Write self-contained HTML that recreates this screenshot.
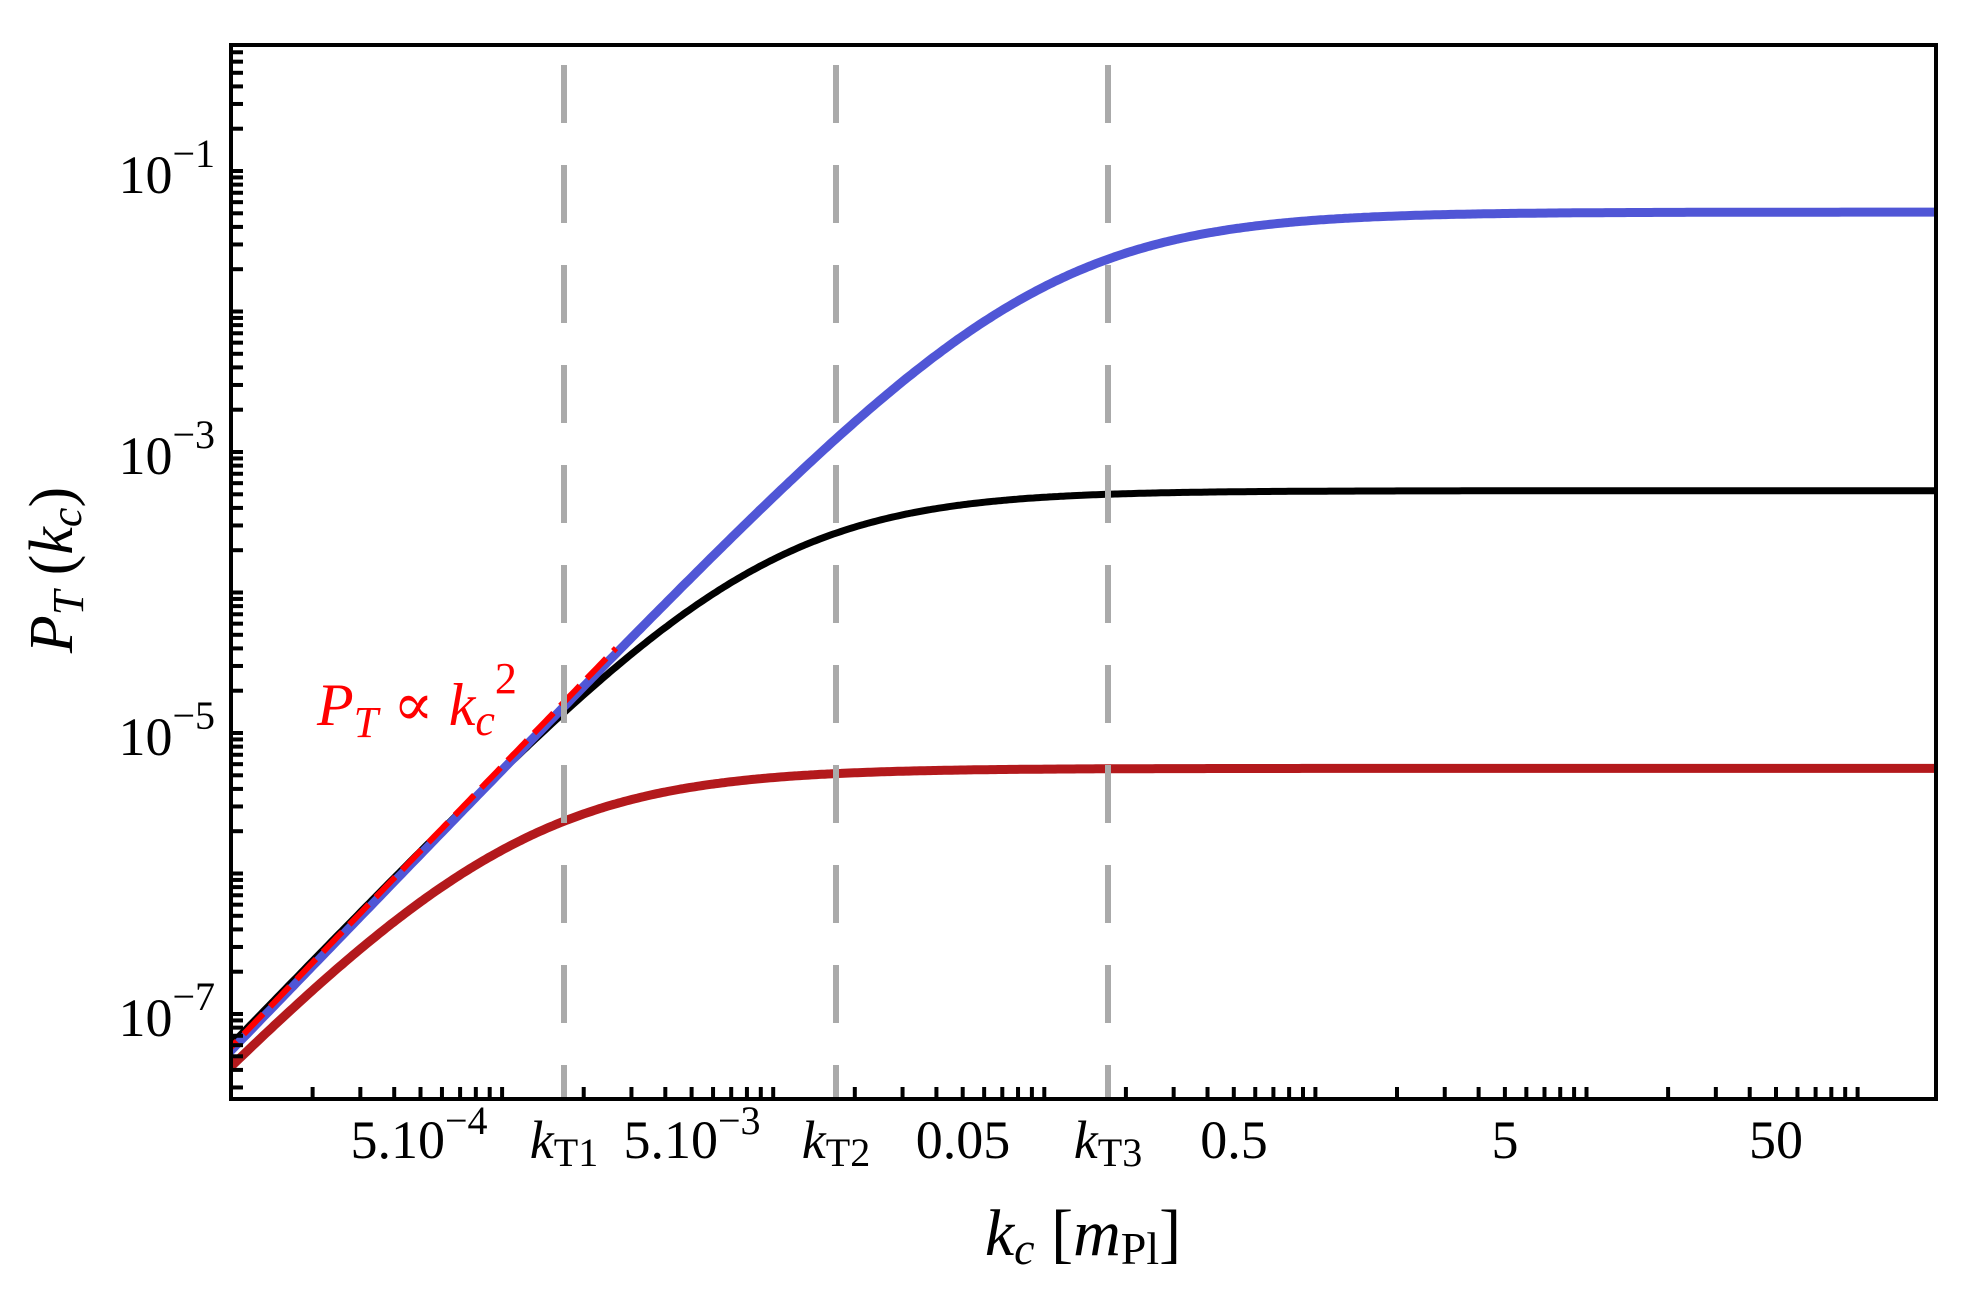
<!DOCTYPE html>
<html><head><meta charset="utf-8"><style>
html,body{margin:0;padding:0;background:#fff;}
svg{display:block;}
text{font-family:"Liberation Serif","DejaVu Serif",serif;fill:#000;}
</style></head><body>
<svg id="s" width="1981" height="1293" viewBox="0 0 1981 1293" xmlns="http://www.w3.org/2000/svg">
<defs><clipPath id="c"><rect x="231" y="45" width="1705" height="1054"/></clipPath></defs>
<rect width="1981" height="1293" fill="#fff"/>
<g id="curves" clip-path="url(#c)"></g>
<g id="vlines" stroke="#aaaaaa" stroke-width="6" stroke-dasharray="58 42" stroke-dashoffset="80">
<line x1="564" y1="45" x2="564" y2="1099"/>
<line x1="836" y1="45" x2="836" y2="1099"/>
<line x1="1108" y1="45" x2="1108" y2="1099"/>
</g>
<g id="ticks" stroke="#000" stroke-width="4"></g>
<rect x="231" y="45" width="1705" height="1054" fill="none" stroke="#000" stroke-width="4"/>
<g font-size="54" text-anchor="end">
<text x="215" y="193">10<tspan dy="-26" font-size="40">−1</tspan></text>
<text x="215" y="474">10<tspan dy="-26" font-size="40">−3</tspan></text>
<text x="215" y="755">10<tspan dy="-26" font-size="40">−5</tspan></text>
<text x="215" y="1036">10<tspan dy="-26" font-size="40">−7</tspan></text>
</g>
<g font-size="54" text-anchor="middle">
<text x="419" y="1158">5.10<tspan dy="-24" font-size="40">−4</tspan></text>
<text x="564" y="1158"><tspan font-style="italic">k</tspan><tspan font-size="40" dy="8">T1</tspan></text>
<text x="692" y="1158">5.10<tspan dy="-24" font-size="40">−3</tspan></text>
<text x="836" y="1158"><tspan font-style="italic">k</tspan><tspan font-size="40" dy="8">T2</tspan></text>
<text x="963" y="1158">0.05</text>
<text x="1108" y="1158"><tspan font-style="italic">k</tspan><tspan font-size="40" dy="8">T3</tspan></text>
<text x="1234" y="1158">0.5</text>
<text x="1505" y="1158">5</text>
<text x="1776" y="1158">50</text>
</g>
<text x="1083" y="1255" font-size="66" text-anchor="middle"><tspan font-style="italic">k</tspan><tspan font-style="italic" font-size="46" dy="9">c</tspan><tspan dy="-9"> [</tspan><tspan font-style="italic">m</tspan><tspan font-size="46" dy="9">Pl</tspan><tspan dy="-9">]</tspan></text>
<text transform="translate(72,570) rotate(-90)" font-size="62" text-anchor="middle"><tspan font-style="italic">P</tspan><tspan font-style="italic" font-size="44" dy="11">T</tspan><tspan dy="-11"> (</tspan><tspan font-style="italic">k</tspan><tspan font-style="italic" font-size="44" dy="9">c</tspan><tspan dy="-9">)</tspan></text>
<text x="317" y="725" font-size="60" style="fill:#ff0000"><tspan font-style="italic">P</tspan><tspan font-style="italic" font-size="44" dy="12">T</tspan><tspan dy="-12"> ∝ </tspan><tspan font-style="italic">k</tspan><tspan font-style="italic" font-size="44" dy="10">c</tspan><tspan font-size="44" dy="-42">2</tspan></text>
</svg>
<script>
(function(){
var NS="http://www.w3.org/2000/svg";
function X(l){return 231+(l+4)*271.1;}
function Y(l){return 171+(-1-l)*140.5;}
var tk=document.getElementById("ticks");
function line(x1,y1,x2,y2){var e=document.createElementNS(NS,"line");e.setAttribute("x1",x1);e.setAttribute("y1",y1);e.setAttribute("x2",x2);e.setAttribute("y2",y2);tk.appendChild(e);}
for(var d=-5;d<=3;d++)for(var m=1;m<=9;m++){var l=d+Math.log10(m);var x=X(l);if(x>233&&x<1934)line(x,1099,x,1087);}
for(var d=-9;d<=1;d++)for(var m=1;m<=9;m++){var l=d+Math.log10(m);var y=Y(l);if(y>47&&y<1097)line(231,y,243,y);}
var g=document.getElementById("curves");
function f(k,C,Pm,n){var p=C*k*k;return p/Math.pow(1+Math.pow(p/Pm,n),1/n);}
function path(C,Pm,n,l0,l1,col,w,dash){var d="";for(var l=l0;l<=l1+1e-9;l+=0.01){var k=Math.pow(10,l);var P=Pm?f(k,C,Pm,n):C*k*k;d+=(d?"L":"M")+X(l).toFixed(1)+","+Y(Math.log10(P)).toFixed(1);}
var e=document.createElementNS(NS,"path");e.setAttribute("d",d);e.setAttribute("fill","none");e.setAttribute("stroke",col);e.setAttribute("stroke-width",w);if(dash)e.setAttribute("stroke-dasharray",dash);g.appendChild(e);}
path(4.8,5.6e-6,0.55,-4.05,2.3,"#b3191c",9);
path(6.1,5.3e-4,0.58,-4.05,2.3,"#000",7);
path(5.5,0.051,0.55,-4.05,2.3,"#5056d6",9);
path(5.8,0,0,-4.05,-2.58,"#ff0000",6,"28 10");
})();
</script>
</body></html>
